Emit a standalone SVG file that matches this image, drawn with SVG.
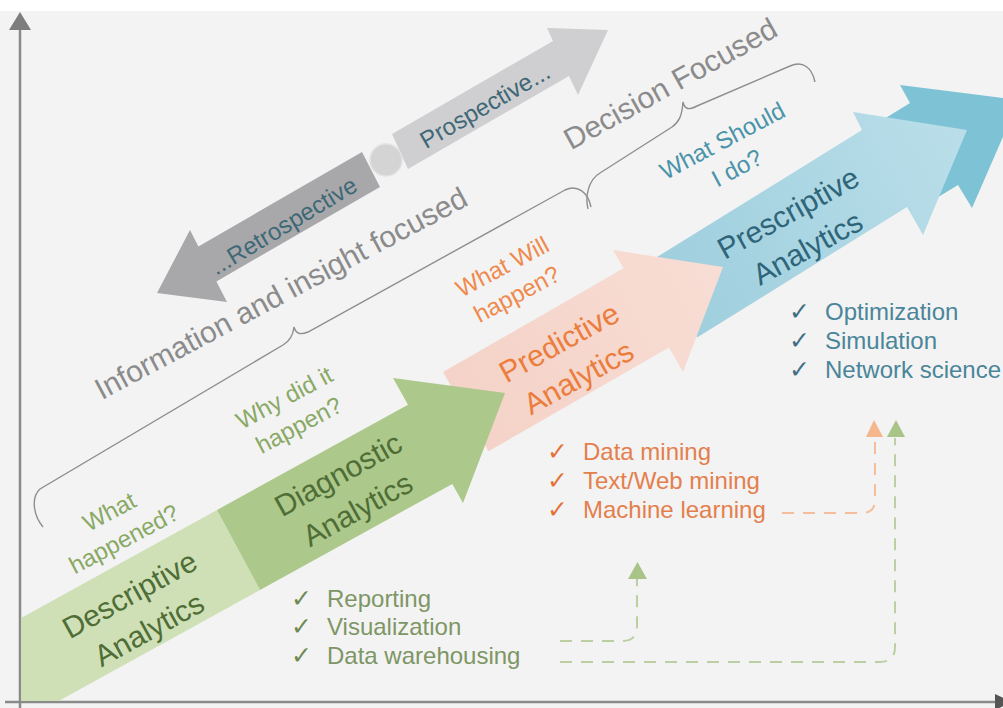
<svg xmlns="http://www.w3.org/2000/svg" width="1003" height="708" viewBox="0 0 1003 708">
<defs>
<style>
text{font-family:"Liberation Sans",Arial,sans-serif;}
.ck{font-family:"DejaVu Sans",sans-serif;font-size:25px;}
.big{font-size:30px;fill:#8b8b8b;}
.an{font-size:30px;text-anchor:middle;}
.q{font-size:24px;text-anchor:middle;}
.tl{font-size:24px;fill:#3f6877;text-anchor:middle;}
.bl{font-size:24px;}
.brace{fill:none;stroke:#8e8e8e;stroke-width:1.4;}
.dg{fill:none;stroke:#bccfa3;stroke-width:2;stroke-dasharray:12 9;}
.do{fill:none;stroke:#f5bd9b;stroke-width:2;stroke-dasharray:12 9;}
</style>
<clipPath id="plot"><rect x="21" y="0" width="982" height="701"/></clipPath>
<linearGradient id="gBlue" gradientUnits="userSpaceOnUse" x1="660" y1="300" x2="960" y2="140">
<stop offset="0" stop-color="#9ecedd"/><stop offset="1" stop-color="#b9dee9"/>
</linearGradient>
<linearGradient id="gPink" gradientUnits="userSpaceOnUse" x1="460" y1="420" x2="720" y2="280">
<stop offset="0" stop-color="#f4d2c7"/><stop offset="1" stop-color="#f8ddd4"/>
</linearGradient>
</defs>

<rect x="0" y="0" width="1003" height="708" fill="#f3f3f4"/>
<rect x="0" y="0" width="1003" height="11" fill="#ffffff"/>

<g id="axes">
<line x1="20" y1="26" x2="20" y2="708" stroke="#8a8a8a" stroke-width="2.5"/>
<polygon points="20,12 9,30 31,30" fill="#7d7d7d"/>
<line x1="5" y1="702" x2="1000" y2="702" stroke="#8a8a8a" stroke-width="2.5"/>
<polygon points="995,694 1012,702 995,710" fill="#555"/>
</g>

<g id="time-arrows">
<polygon id="retrospective" points="362,152 198.4,246.4 190,230 157,293 227,302 216.4,281.4 380,187" fill="#a8a8aa"/>
<polygon id="prospective" points="392,134 553,41 547,28 608,30 578,95 569,76 408,169" fill="#cfcfd1"/>
<circle cx="386" cy="160" r="16" fill="#d4d4d5" stroke="#e2e2e3" stroke-width="1.5"/>
<text class="tl" transform="translate(283.5,226) rotate(-31)" y="8">...Retrospective</text>
<text class="tl" transform="translate(485,106) rotate(-30)" y="8">Prospective...</text>
</g>

<g id="braces">
<path class="brace" d="M43,527 C33,515 31,497 40,489 L283,345 C290,341 293,336 294,327 C296,334 300,335 308,332 L565,190 C577,184 588,192 591,207"/>
<path class="brace" d="M588,209 C585,197 588,180 600,173 L672,127 C679,122 682,116 683,102 C685,110 689,110 697,106 L790,66 C803,60 812,68 815,82"/>
<text class="big" text-anchor="middle" transform="translate(281,293.5) rotate(-28)" y="10">Information and insight focused</text>
<text class="big" text-anchor="middle" transform="translate(670.5,84) rotate(-29)" y="10">Decision Focused</text>
</g>

<g id="prescriptive">
<polygon points="850,140 910,103 900,85 1019,100 972,208 958,185 930,202" fill="#7ec2d5"/>
<polygon points="657,257 862,130 853,112 967,130 923,235 907,207 697,337.6" fill="url(#gBlue)"/>
<g transform="translate(799,232.5) rotate(-29)" fill="#2f6579">
<text class="an" y="-12">Prescriptive</text>
<text class="an" y="28">Analytics</text>
</g>
</g>

<g id="predictive">
<polygon points="443,372 623.5,268.3 613,250 723,267 683,372 669,347.6 488.5,451.3" fill="url(#gPink)"/>
<g transform="translate(570,362) rotate(-29)" fill="#eb7d3d">
<text class="an" y="-12">Predictive</text>
<text class="an" y="28">Analytics</text>
</g>
</g>

<g id="descriptive" clip-path="url(#plot)">
<polygon points="0,629.7 217,510 260,590 0,733.4" fill="#cfe0b7"/>
<g transform="translate(140.5,614) rotate(-29)" fill="#4f6d36">
<text class="an" y="-12">Descriptive</text>
<text class="an" y="28">Analytics</text>
</g>
</g>

<g id="diagnostic">
<polygon points="217,510 408,404.7 393,378 505,393 463,503 452.3,483.9 260,590" fill="#acc88a"/>
<g transform="translate(349,494) rotate(-29)" fill="#4f6d36">
<text class="an" y="-12">Diagnostic</text>
<text class="an" y="28">Analytics</text>
</g>
</g>

<g id="questions">
<g transform="translate(117,526) rotate(-28)" fill="#89a964">
<text class="q" y="-8">What</text>
<text class="q" y="23">happened?</text>
</g>
<g transform="translate(292,412) rotate(-28)" fill="#89a964">
<text class="q" y="-8">Why did it</text>
<text class="q" y="23">happen?</text>
</g>
<g transform="translate(510,281) rotate(-28)" fill="#ef8a4c">
<text class="q" y="-8">What Will</text>
<text class="q" y="23">happen?</text>
</g>
<g transform="translate(730,155) rotate(-28)" fill="#4b93a9">
<text class="q" y="-8">What Should</text>
<text class="q" y="23">I do?</text>
</g>
</g>

<g id="list-descriptive">
<text class="ck" x="291" y="607" fill="#6e8a52">✓</text>
<text class="ck" x="291" y="635" fill="#6e8a52">✓</text>
<text class="ck" x="291" y="664" fill="#6e8a52">✓</text>
<text class="bl" x="327" y="607" fill="#7e9664">Reporting</text>
<text class="bl" x="327" y="635" fill="#7e9664">Visualization</text>
<text class="bl" x="327" y="664" fill="#7e9664">Data warehousing</text>
</g>

<g id="list-predictive">
<text class="ck" x="547" y="460" fill="#e4733a">✓</text>
<text class="ck" x="547" y="489" fill="#e4733a">✓</text>
<text class="ck" x="547" y="518" fill="#e4733a">✓</text>
<text class="bl" x="583" y="460" fill="#e47f4c">Data mining</text>
<text class="bl" x="583" y="489" fill="#e47f4c">Text/Web mining</text>
<text class="bl" x="583" y="518" fill="#e47f4c">Machine learning</text>
</g>

<g id="list-prescriptive">
<text class="ck" x="789" y="320" fill="#3f6f85">✓</text>
<text class="ck" x="789" y="349" fill="#3f6f85">✓</text>
<text class="ck" x="789" y="378" fill="#3f6f85">✓</text>
<text class="bl" x="825" y="320" fill="#4a8599">Optimization</text>
<text class="bl" x="825" y="349" fill="#4a8599">Simulation</text>
<text class="bl" x="825" y="378" fill="#4a8599">Network science</text>
</g>

<g id="connectors">
<path class="dg" d="M560,641 L622,641 Q637,641 637,626 L637,579"/>
<polygon points="628,579 637.5,562 647,579" fill="#a9c487"/>
<path class="dg" d="M560,662 L880,662 Q895,662 895,647 L895,438"/>
<polygon points="887,437 896,420 905,437" fill="#a9c487"/>
<path class="do" d="M782,513 L862,513 Q875,513 875,500 L875,438"/>
<polygon points="866,437 874,420 883,437" fill="#f5b68d"/>
</g>
</svg>
